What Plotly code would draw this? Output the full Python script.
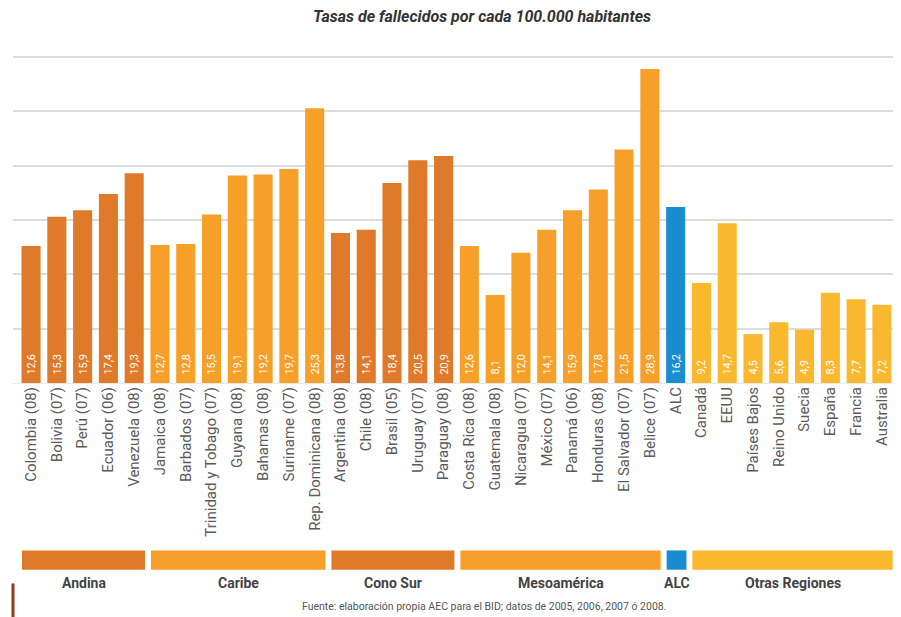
import plotly.graph_objects as go

categories = ["Colombia (08)", "Bolivia (07)", "Perú (07)", "Ecuador (06)", "Venezuela (08)",
              "Jamaica (08)", "Barbados (07)", "Trinidad y Tobago (07)", "Guyana (08)", "Bahamas (08)",
              "Suriname (07)", "Rep. Dominicana (08)",
              "Argentina (08)", "Chile (08)", "Brasil (05)", "Uruguay (07)", "Paraguay (08)",
              "Costa Rica (08)", "Guatemala (08)", "Nicaragua (07)", "México (07)", "Panamá (06)",
              "Honduras (08)", "El Salvador (07)", "Belice (07)",
              "ALC",
              "Canadá", "EEUU", "Países Bajos", "Reino Unido", "Suecia", "España", "Francia", "Australia"]
values = [12.6, 15.3, 15.9, 17.4, 19.3,
          12.7, 12.8, 15.5, 19.1, 19.2, 19.7, 25.3,
          13.8, 14.1, 18.4, 20.5, 20.9,
          12.6, 8.1, 12.0, 14.1, 15.9, 17.8, 21.5, 28.9,
          16.2,
          9.2, 14.7, 4.5, 5.6, 4.9, 8.3, 7.7, 7.2]
groups = ["Andina", "Caribe", "Cono Sur", "Mesoamérica", "ALC", "Otras Regiones"]
group_sizes = [5, 7, 5, 8, 1, 8]

group_colors = {
    "Andina": "#DE7A2A",
    "Caribe": "#F6A02A",
    "Cono Sur": "#DE7A2A",
    "Mesoamérica": "#F6A02A",
    "ALC": "#1A8CD0",
    "Otras Regiones": "#FAB82F",
}

FONT = "Roboto, sans-serif"

bar_colors = []
group_ranges = []
start = 0
for g, n in zip(groups, group_sizes):
    bar_colors += [group_colors[g]] * n
    group_ranges.append((g, start, start + n - 1))
    start += n

labels = ["\u00a0\u00a0" + f"{v:.1f}".replace(".", ",") for v in values]

fig = go.Figure()
fig.add_trace(go.Bar(
    x=categories, y=values, marker=dict(color=bar_colors, line=dict(width=0)),
    text=labels, textposition="inside", insidetextanchor="start", textangle=-90,
    textfont=dict(color="white", size=12.5, family=FONT),
    hoverinfo="x+y", showlegend=False,
))

shapes = []
annotations = []
for g, s, e in group_ranges:
    shapes.append(dict(type="rect", xref="x", yref="paper", x0=s - 0.35, x1=e + 0.42,
                       y0=-0.571, y1=-0.512, fillcolor=group_colors[g], line=dict(width=0), layer="above"))
    annotations.append(dict(xref="x", yref="paper", x=(s - 0.35 + e + 0.42) / 2, y=-0.613,
                            text=f"<b>{g}</b>", showarrow=False, yanchor="middle",
                            font=dict(size=14, color="#444444", family=FONT)))

shapes.append(dict(type="line", xref="paper", yref="paper", x0=0.0, x1=0.0, y0=-0.613, y1=-0.72,
                   line=dict(color="#8B3A1A", width=3)))

annotations.append(dict(xref="paper", yref="paper", x=0.536, y=-0.684,
                        text="Fuente: elaboración propia AEC para el BID; datos de 2005, 2006, 2007 ó 2008.",
                        showarrow=False, yanchor="middle",
                        font=dict(size=10.5, color="#555555", family=FONT)))

annotations.append(dict(xref="paper", yref="paper", x=0.533, y=1.12,
                        text="<b><i>Tasas de fallecidos por cada 100.000 habitantes</i></b>",
                        showarrow=False, yanchor="middle",
                        font=dict(size=16, color="#333333", family=FONT)))

fig.update_layout(
    width=901, height=617,
    margin=dict(l=13, r=8, t=56, b=234),
    paper_bgcolor="white", plot_bgcolor="white",
    bargap=0.26,
    xaxis=dict(range=[-0.7, 33.43], tickangle=-90, showgrid=False, showline=False, ticks="",
               automargin=False,
               tickfont=dict(size=15, color="#5A5A5A", family=FONT)),
    yaxis=dict(range=[0, 30.1], tickvals=[5, 10, 15, 20, 25, 30], showticklabels=False, showgrid=True,
               gridcolor="#DCDCDC", gridwidth=1.5, zeroline=True, zerolinecolor="#E8E8E8", zerolinewidth=1,
               automargin=False),
    shapes=shapes, annotations=annotations,
)

fig.write_html("out.html", config={"displayModeBar": False},
               post_script="document.body.style.margin='0';document.body.style.overflow='hidden';")
